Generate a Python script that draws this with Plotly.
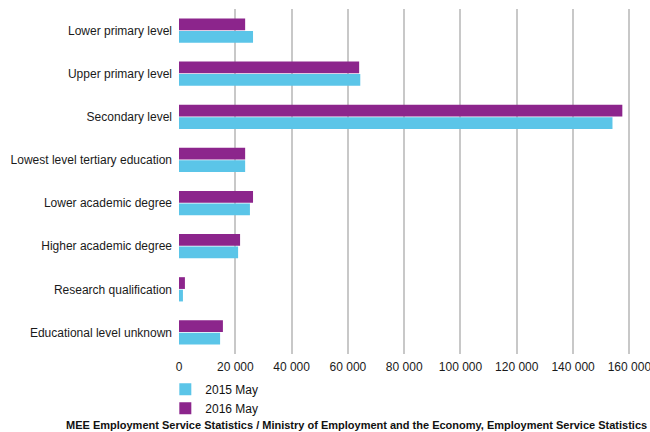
import plotly.graph_objects as go

# Categories listed bottom-to-top (plotly draws the first category at the bottom)
categories = [
    "Educational level unknown",
    "Research qualification",
    "Higher academic degree",
    "Lower academic degree",
    "Lowest level tertiary education",
    "Secondary level",
    "Upper primary level",
    "Lower primary level",
]
may_2015 = [14600, 1400, 21000, 25200, 23500, 154000, 64400, 26300]
may_2016 = [15600, 2100, 21700, 26300, 23500, 157500, 64000, 23500]

tick_vals = [0, 20000, 40000, 60000, 80000, 100000, 120000, 140000, 160000]
tick_text = ["0", "20 000", "40 000", "60 000", "80 000", "100 000", "120 000", "140 000", "160 000"]

BLUE = "#5BC5E8"
PURPLE = "#8C258C"

fig = go.Figure()
fig.add_trace(go.Bar(
    y=categories, x=may_2015, orientation="h", name="2015 May",
    marker=dict(color=BLUE, line=dict(color="#222222", width=0)),
))
fig.add_trace(go.Bar(
    y=categories, x=may_2016, orientation="h", name="2016 May",
    marker=dict(color=PURPLE, line=dict(color="#222222", width=0)),
))

fig.update_layout(
    width=650, height=432,
    margin=dict(l=179, r=15, t=9, b=78, autoexpand=False),
    paper_bgcolor="white", plot_bgcolor="white",
    barmode="group", bargap=0.42, bargroupgap=0.06,
    font=dict(family="Liberation Sans, Arial, sans-serif", size=12, color="#1a1a1a"),
    showlegend=True,
    legend=dict(
        x=-0.03, y=-0.06, xanchor="left", yanchor="top",
        traceorder="normal", font=dict(size=12, color="#111111"),
        tracegroupgap=0, bgcolor="rgba(0,0,0,0)",
    ),
    annotations=[dict(
        text="<b>MEE Employment Service Statistics / Ministry of Employment and the Economy, Employment Service Statistics</b>",
        xref="paper", yref="paper", x=1.03, y=-0.205, xanchor="right", yanchor="middle",
        showarrow=False, font=dict(size=11, color="#111111"),
    )],
)

fig.update_xaxes(
    range=[0, 162000], tickvals=tick_vals, ticktext=tick_text,
    showgrid=True, gridcolor="#C8C8C8", gridwidth=2,
    zeroline=False, showline=False, ticks="", ticklabelstandoff=4,
    ticklabeloverflow="allow", automargin=False,
)
fig.update_yaxes(
    categoryorder="array", categoryarray=categories,
    showgrid=False, zeroline=False, showline=False, ticks="", ticklabelstandoff=6,
    automargin=False,
)

# drop the browser's default 8px body margin so the figure sits at the page corner
fig.write_html(
    "out.html",
    config={"displayModeBar": False},
    post_script="document.body.style.margin='0';",
)
